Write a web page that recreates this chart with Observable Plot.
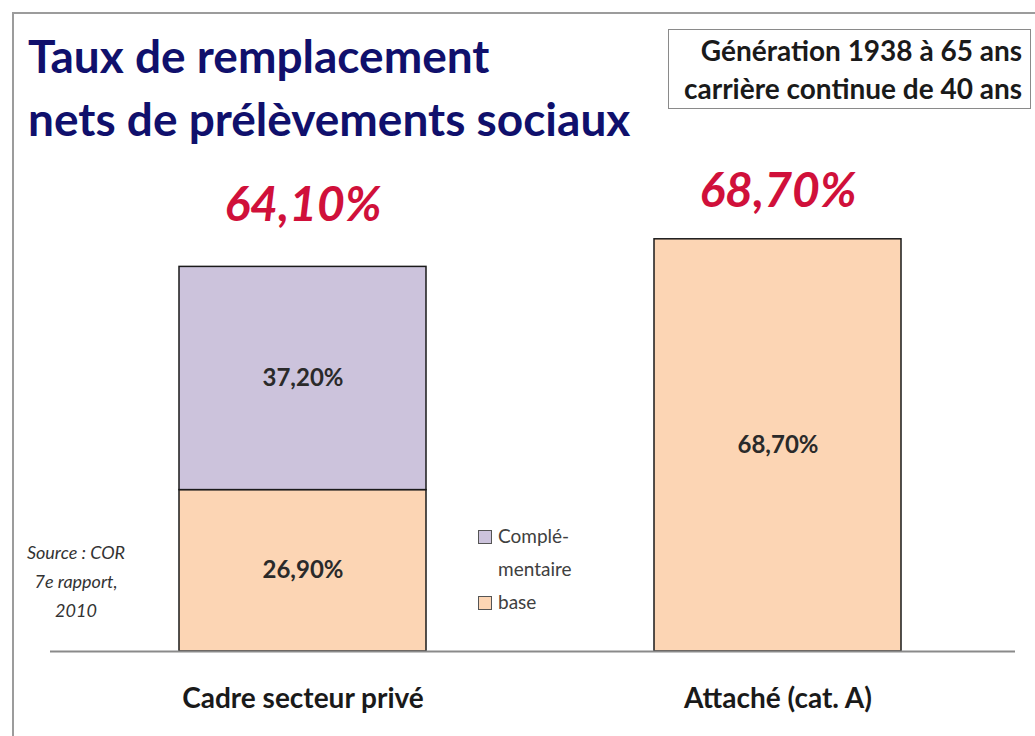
<!DOCTYPE html>
<html><head><meta charset="utf-8">
<script src="https://cdn.jsdelivr.net/npm/d3@7"></script>
<script src="https://cdn.jsdelivr.net/npm/@observablehq/plot@0.6"></script>
<style>
body{margin:0;background:#fff;font-family:Lato,"Open Sans",sans-serif;}
#wrap{position:relative;width:1035px;height:736px;overflow:hidden;background:#fff}
#frame{position:absolute;left:12px;top:12px;width:1040px;height:740px;border:2px solid #9c9c9c;box-sizing:border-box}
#header{position:relative;height:150px}
#title{position:absolute;left:28px;top:24px;font-size:46px;font-weight:700;color:#10106c;line-height:63px;white-space:nowrap}
#box{position:absolute;left:668px;top:29px;width:363px;height:80px;border:1.5px solid #8a8a8a;box-sizing:border-box;text-align:right;padding:1px 8px 0 0;font-size:28px;font-weight:700;color:#1a1a1a;line-height:38px;background:#fff;white-space:nowrap}
#chart{position:absolute;left:0;top:150px}
#legend{position:absolute;left:478px;top:519px;font-size:19px;color:#404040;line-height:33px}
.sw{display:inline-block;width:12px;height:12px;border:1px solid #555;margin-right:6px;vertical-align:-1px}
#source{position:absolute;left:16px;top:538px;width:120px;text-align:center;font-style:italic;font-size:18px;color:#333;line-height:29px}
</style></head>
<body>
<div id="wrap">
  <div id="frame"></div>
  <div id="header">
    <div id="title">Taux de remplacement<br>nets de prélèvements sociaux</div>
    <div id="box">Génération 1938 à 65 ans<br>carrière continue de 40 ans</div>
  </div>
  <div id="chart"></div>
  <div id="source">Source : COR<br>7e rapport,<br>2010</div>
  <div id="legend">
    <div><span class="sw" style="background:#ccc3dc"></span>Complé-</div>
    <div style="padding-left:20px">mentaire</div>
    <div><span class="sw" style="background:#fcd5b4"></span>base</div>
  </div>
</div>
<script>
const categories = ["Cadre secteur privé", "Attaché (cat. A)"];
const types = ["base", "Complémentaire"];
const baseValues = [26.9, 68.7];
const complementaireValues = [37.2, 0];
const totals = [64.1, 68.7];
const colors = ["#fcd5b4", "#ccc3dc"];

const rows = [];
categories.forEach((c, i) => {
  rows.push({cat: c, type: "base", value: baseValues[i]});
  if (complementaireValues[i] > 0) rows.push({cat: c, type: "Complémentaire", value: complementaireValues[i]});
});
const totalRows = categories.map((c, i) => ({cat: c, total: totals[i]}));
const fmt = v => d3.format(".2f")(v).replace(".", ",") + "%";

const chart = Plot.plot({
  width: 1035,
  height: 586,
  marginLeft: 50,
  marginRight: 20,
  marginTop: 81,
  marginBottom: 85,
  style: {fontFamily: "Lato, 'Open Sans', sans-serif", background: "transparent"},
  x: {domain: categories, range: [179, 901], paddingInner: 0.48, paddingOuter: 0},
  y: {domain: [0, 70], axis: null},
  color: {domain: types, range: colors},
  marks: [
    Plot.barY(rows, {x: "cat", y: "value", fill: "type", stroke: "#1a1a1a", strokeWidth: 1.5}),
    Plot.text(rows, Plot.stackY({x: "cat", y: "value", z: "type", text: d => fmt(d.value), fontSize: 24, fontWeight: "bold", fill: "#2a2a2a"})),
    Plot.text(totalRows.slice(0, 1), {x: "cat", y: "total", text: d => fmt(d.total), dy: -61, fontSize: 48, fontWeight: "bold", fontStyle: "italic", fill: "#d0103a"}),
    Plot.text(totalRows.slice(1), {x: "cat", y: "total", text: d => fmt(d.total), dy: -48, fontSize: 48, fontWeight: "bold", fontStyle: "italic", fill: "#d0103a"}),
    Plot.ruleY([0], {stroke: "#8a8a8a", strokeWidth: 2}),
    Plot.axisX({tickSize: 0, tickPadding: 37, fontSize: 28, fontWeight: "bold", fill: "#1a1a1a", label: null})
  ]
});
document.getElementById("chart").appendChild(chart);
</script>
</body></html>
